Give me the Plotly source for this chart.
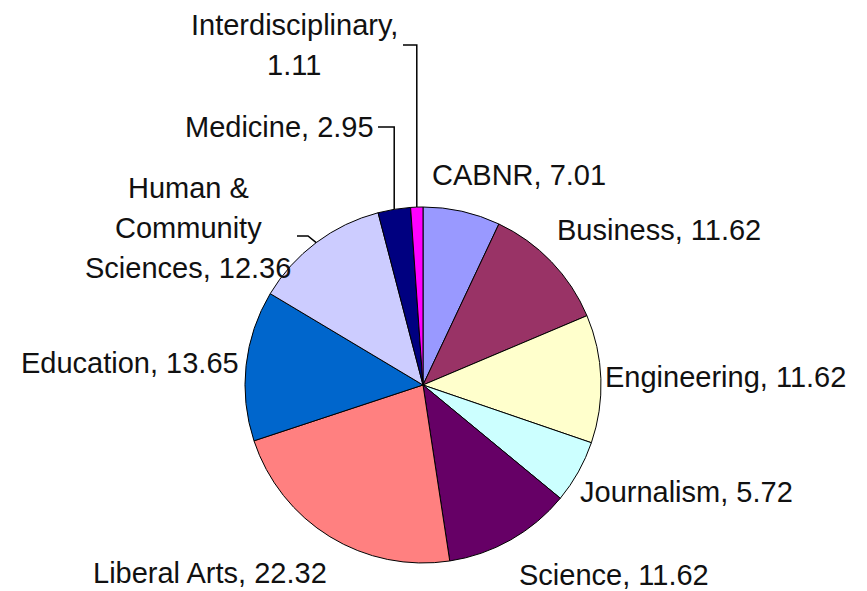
import math
import plotly.graph_objects as go

# ---- data ----
colleges = ["CABNR", "Business", "Engineering", "Journalism", "Science",
            "Liberal Arts", "Education", "Human & Community Sciences",
            "Medicine", "Interdisciplinary"]
percent = [7.01, 11.62, 11.62, 5.72, 11.62, 22.32, 13.65, 12.36, 2.95, 1.11]
label_names = ["CABNR", "Business", "Engineering", "Journalism", "Science",
               "Liberal Arts", "Education", "Human &<br>Community<br>Sciences",
               "Medicine", "Interdisciplinary"]
label_sep = [", ", ", ", ", ", ", ", ", ", ", ", ", ", ", ", ", ", ",<br>"]

# ---- styles / layout ----
colors = ["#9999FF", "#993366", "#FFFFCC", "#CCFFFF", "#660066",
          "#FF8080", "#0066CC", "#CCCCFF", "#000080", "#FF00FF"]
W, H = 867, 591
CX, CY, R = 423, 385, 178
LINE_GAP = 40
FONT = dict(family="Liberation Sans, Arial, sans-serif", size=29, color="#111111")

# label placement (pixel x, pixel y of block centre, xanchor)
label_pos = [
    (430, 175, "left"),
    (555, 230, "left"),
    (603, 377, "left"),
    (578, 492, "left"),
    (517, 575, "left"),
    (329, 573, "right"),
    (241, 363, "right"),
    (188, 228, "center"),
    (376, 127, "right"),
    (294, 45, "center"),
]
# leader lines: label-side start point (pixel) for labels that have one
leader_start = {9: (403, 45), 8: (378, 127), 7: (297, 236)}


def px(x):
    return x / W


def py(y):
    return 1 - y / H


fig = go.Figure(go.Pie(
    labels=colleges, values=percent, sort=False, direction="clockwise",
    rotation=0, textinfo="none", hoverinfo="label+value",
    marker=dict(colors=colors, line=dict(color="#000000", width=1)),
    domain=dict(x=[(CX - R) / W, (CX + R) / W],
                y=[1 - (CY + R) / H, 1 - (CY - R) / H]),
    showlegend=False,
))

total = sum(percent)
annotations = []
shapes = []
cum = 0.0
for i, v in enumerate(percent):
    mid = (cum + v / 2) / total * 2 * math.pi
    cum += v
    text = f"{label_names[i]}{label_sep[i]}{v:.2f}"
    lines = text.split("<br>")
    x, y, anc = label_pos[i]
    n = len(lines)
    for k, ln in enumerate(lines):
        yy = y + (k - (n - 1) / 2) * LINE_GAP
        annotations.append(dict(
            x=px(x), y=py(yy), xref="paper", yref="paper", text=ln,
            showarrow=False, xanchor=anc, yanchor="middle", align="center",
            font=FONT))
    if i in leader_start:
        sx = CX + R * math.sin(mid)
        sy = CY - R * math.cos(mid)
        x0, y0 = leader_start[i]
        if i == 7:
            x1 = x0 + 11
            path = f"M {px(x0)},{py(y0)} L {px(x1)},{py(y0)} L {px(sx)},{py(sy)}"
        else:
            path = f"M {px(x0)},{py(y0)} L {px(sx)},{py(y0)} L {px(sx)},{py(sy)}"
        shapes.append(dict(type="path", path=path, xref="paper", yref="paper",
                           line=dict(color="#000000", width=1.5)))

fig.update_layout(
    width=W, height=H, margin=dict(l=0, r=0, t=0, b=0),
    paper_bgcolor="#FFFFFF", plot_bgcolor="#FFFFFF",
    annotations=annotations, shapes=shapes,
)

fig.write_html(
    "out.html",
    config={"displayModeBar": False},
    post_script="document.body.style.margin='0';document.body.style.overflow='hidden';",
)
